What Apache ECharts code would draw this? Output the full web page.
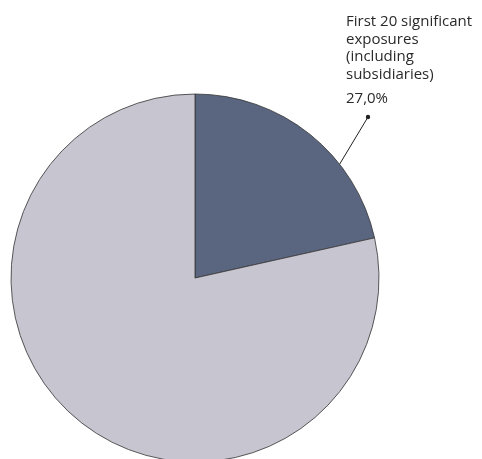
<!DOCTYPE html>
<html><head><meta charset="utf-8">
<script src="https://cdn.jsdelivr.net/npm/echarts@6/dist/echarts.min.js"></script>
<style>html,body{margin:0;padding:0;background:#fff}#c{width:482px;height:459px}</style>
</head><body><div id="c"></div>
<script>
var categories = ['First 20 significant exposures (including subsidiaries)', 'Other exposures'];
var values = [21.5, 78.5];
var labelTitles = ['First 20 significant\nexposures\n(including\nsubsidiaries)', ''];
var labelValues = ['27,0%', ''];
var colors = ['#5a6580', '#c6c5d0'];

var CX = 195, CY = 278, R = 184;
var leaderAngle = 51.8 * Math.PI / 180;
var lineStart = [CX + R * Math.sin(leaderAngle), CY - R * Math.cos(leaderAngle)];
var lineEnd = [368, 117];

var chart = echarts.init(document.getElementById('c'), null, {renderer: 'canvas'});
chart.setOption({
  animation: false,
  graphic: [{type: 'circle', shape: {cx: lineEnd[0], cy: lineEnd[1], r: 2.2}, style: {fill: '#222'}, z: 100}],
  series: [{
    type: 'pie',
    center: [CX, CY],
    radius: R,
    startAngle: 90,
    clockwise: true,
    itemStyle: {borderColor: '#333', borderWidth: 0.8},
    data: categories.map(function (c, i) {
      return {
        name: c, value: values[i],
        itemStyle: {color: colors[i]},
        label: {show: i === 0},
        labelLine: {show: i === 0}
      };
    }),
    label: {
      formatter: function (p) {
        return '{t|' + labelTitles[p.dataIndex] + '}\n{v|' + labelValues[p.dataIndex] + '}';
      },
      rich: {
        t: {fontFamily: 'Open Sans', fontSize: 15, lineHeight: 17.5, color: '#2a2a2a'},
        v: {fontFamily: 'Open Sans', fontSize: 15, lineHeight: 17.5, color: '#2a2a2a', padding: [14, 0, 0, 0]}
      }
    },
    labelLine: {lineStyle: {color: '#222', width: 1}, length: 10, length2: 0},
    labelLayout: function (p) {
      if (p.dataIndex !== 0) return {};
      return {
        x: 346, y: 13, align: 'left', verticalAlign: 'top',
        labelLinePoints: [lineStart, lineEnd, lineEnd]
      };
    }
  }]
});
</script></body></html>
